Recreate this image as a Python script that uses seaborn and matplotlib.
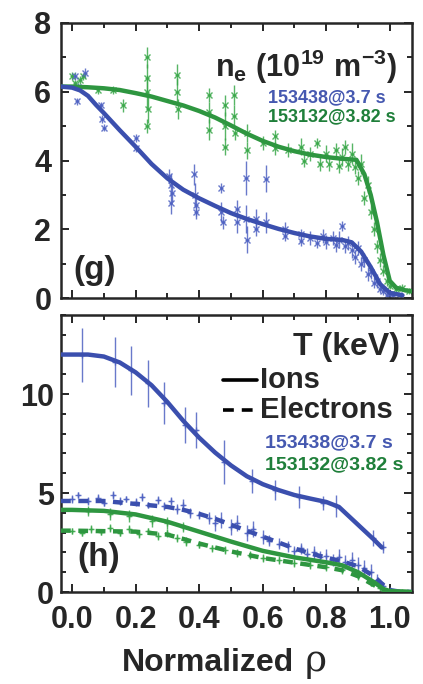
import numpy as np
import pandas as pd
import matplotlib
matplotlib.use("Agg")
import matplotlib.pyplot as plt
import seaborn as sns
from matplotlib.ticker import MultipleLocator, FormatStrFormatter

# fit curves (rho, value)
ne_rho_b = [-0.035, 0.0, 0.025, 0.05, 0.075, 0.10, 0.125, 0.15, 0.20, 0.25, 0.30, 0.35, 0.40, 0.45,
            0.50, 0.55, 0.60, 0.65, 0.70, 0.75, 0.80, 0.85, 0.88, 0.91, 0.94, 0.97, 1.00, 1.04]
ne_fit_b = [6.15, 6.12, 6.04, 5.88, 5.62, 5.38, 5.13, 4.88, 4.40, 3.90, 3.48, 3.15, 2.90, 2.68,
            2.47, 2.30, 2.15, 2.01, 1.89, 1.79, 1.72, 1.69, 1.62, 1.35, 0.90, 0.40, 0.15, 0.08]
ne_rho_g = [-0.035, 0.0, 0.05, 0.10, 0.15, 0.20, 0.25, 0.30, 0.35, 0.40, 0.45, 0.50, 0.55, 0.60,
            0.65, 0.70, 0.75, 0.80, 0.85, 0.895, 0.92, 0.94, 0.96, 0.98, 1.00, 1.02, 1.05, 1.07]
ne_fit_g = [6.15, 6.15, 6.13, 6.10, 6.05, 5.96, 5.86, 5.73, 5.60, 5.44, 5.25, 5.02, 4.78, 4.57,
            4.40, 4.27, 4.17, 4.10, 4.05, 4.02, 3.60, 3.00, 2.20, 1.25, 0.50, 0.30, 0.22, 0.20]

t_rho_ib = [-0.035, 0.0, 0.05, 0.10, 0.15, 0.20, 0.25, 0.30, 0.35, 0.40, 0.45, 0.50, 0.55, 0.60,
            0.65, 0.70, 0.75, 0.80, 0.84, 0.88, 0.92, 0.95, 0.975]
ti_fit_b = [12.0, 12.0, 12.0, 11.9, 11.6, 11.1, 10.45, 9.6, 8.65, 7.8, 7.05, 6.4, 5.85, 5.45,
            5.15, 4.9, 4.72, 4.55, 4.3, 3.7, 3.1, 2.65, 2.25]
t_rho_eb = [-0.035, 0.0, 0.10, 0.20, 0.30, 0.35, 0.40, 0.45, 0.50, 0.55, 0.60, 0.65, 0.70, 0.75,
            0.80, 0.85, 0.90, 0.95, 0.98, 1.00, 1.03, 1.07]
te_fit_b = [4.6, 4.6, 4.6, 4.45, 4.3, 4.15, 3.95, 3.7, 3.4, 3.1, 2.8, 2.5, 2.2, 1.95,
            1.74, 1.55, 1.3, 0.8, 0.35, 0.1, 0.02, 0.0]
t_rho_ig = [-0.035, 0.0, 0.10, 0.20, 0.30, 0.40, 0.50, 0.60, 0.70, 0.80, 0.85, 0.90, 0.95, 0.98,
            1.00, 1.07]
ti_fit_g = [4.15, 4.15, 4.1, 3.92, 3.55, 3.05, 2.55, 2.08, 1.75, 1.5, 1.35, 1.0, 0.5, 0.15, 0.05, 0.0]
t_rho_eg = [-0.035, 0.0, 0.20, 0.30, 0.35, 0.40, 0.50, 0.60, 0.70, 0.80, 0.85, 0.90, 0.95, 0.98,
            1.00, 1.07]
te_fit_g = [3.1, 3.1, 3.05, 2.9, 2.68, 2.45, 2.05, 1.72, 1.48, 1.25, 1.1, 0.8, 0.35, 0.1, 0.02, 0.0]

# measured points (rho, value, error)
ne_pts_b_rho = [0.01, 0.02, 0.015, 0.04, 0.09, 0.095, 0.10, 0.20, 0.20,
                0.305, 0.31, 0.315, 0.31, 0.385, 0.387, 0.39, 0.39, 0.47, 0.47, 0.475,
                0.518, 0.52, 0.547, 0.548, 0.55, 0.58, 0.58, 0.61, 0.61, 0.67, 0.67,
                0.72, 0.72, 0.75, 0.77, 0.79, 0.80, 0.82, 0.83, 0.84, 0.85, 0.86, 0.87,
                0.88, 0.89, 0.90, 0.91, 0.92, 0.93, 0.94, 0.95, 0.96, 0.97, 0.98, 0.99,
                1.00, 1.01, 1.03]
ne_pts_b = [6.45, 6.15, 5.72, 6.55, 5.6, 5.2, 4.95, 4.65, 4.35,
            3.55, 3.3, 3.05, 2.75, 3.6, 3.0, 2.7, 2.5, 3.2, 2.5, 2.2,
            2.6, 2.2, 3.5, 2.3, 1.7, 2.3, 2.0, 3.47, 2.2, 2.0, 1.8,
            1.85, 1.65, 1.75, 1.6, 1.8, 1.62, 1.75, 1.55, 1.7, 2.1, 1.5, 1.6,
            1.4, 1.2, 1.45, 1.0, 1.1, 0.7, 0.75, 0.45, 0.5, 0.25, 0.2, 0.1,
            0.12, 0.08, 0.1]
ne_err_b = [0.12, 0.1, 0.1, 0.15, 0.1, 0.12, 0.1, 0.12, 0.1,
            0.2, 0.3, 0.25, 0.3, 0.3, 0.35, 0.3, 0.2, 0.15, 0.3, 0.2,
            0.25, 0.3, 0.5, 0.4, 0.4, 0.3, 0.2, 0.4, 0.3, 0.2, 0.15,
            0.15, 0.15, 0.2, 0.15, 0.2, 0.2, 0.2, 0.2, 0.25, 0.15, 0.2, 0.2,
            0.25, 0.2, 0.2, 0.2, 0.2, 0.2, 0.2, 0.15, 0.2, 0.1, 0.1, 0.08,
            0.1, 0.05, 0.05]

ne_pts_g_rho = [0.0, 0.01, 0.025, 0.035, 0.08, 0.13, 0.16,
                0.235, 0.236, 0.237, 0.238, 0.236, 0.33, 0.33, 0.332,
                0.43, 0.43, 0.432, 0.48, 0.48, 0.482, 0.51, 0.51, 0.512,
                0.55, 0.55, 0.60, 0.64, 0.64, 0.68, 0.72, 0.73, 0.75, 0.77, 0.78,
                0.80, 0.81, 0.83, 0.84, 0.85, 0.86, 0.87, 0.88, 0.89, 0.90, 0.91,
                0.92, 0.93, 0.94, 0.95, 0.96, 0.97, 0.98, 0.99, 1.00, 1.02, 1.04, 1.06]
ne_pts_g = [6.45, 6.25, 6.35, 6.45, 6.05, 6.05, 5.6,
            7.0, 6.4, 6.0, 5.5, 5.0, 6.5, 6.0, 5.5,
            5.9, 5.4, 4.9, 5.6, 5.0, 4.4, 5.9, 5.3, 4.8,
            4.8, 4.3, 4.5, 4.7, 4.35, 4.3, 4.4, 4.0, 4.2, 4.5, 3.9,
            4.2, 3.9, 4.3, 3.85, 4.1, 4.4, 3.9, 4.2, 3.8, 3.5, 3.9,
            2.9, 3.3, 2.5, 2.0, 1.5, 1.1, 0.8, 0.5, 0.35, 0.25, 0.3, 0.2]
ne_err_g = [0.12, 0.1, 0.12, 0.1, 0.12, 0.12, 0.2,
            0.3, 0.4, 0.5, 0.4, 0.2, 0.3, 0.4, 0.3,
            0.2, 0.3, 0.3, 0.3, 0.4, 0.25, 0.3, 0.3, 0.2,
            0.25, 0.25, 0.2, 0.2, 0.2, 0.2, 0.25, 0.2, 0.2, 0.15, 0.2,
            0.25, 0.2, 0.2, 0.2, 0.25, 0.2, 0.2, 0.3, 0.2, 0.2, 0.3,
            0.2, 0.25, 0.2, 0.2, 0.2, 0.2, 0.15, 0.15, 0.1, 0.1, 0.1, 0.08]

ti_pts_b_rho = [0.03, 0.135, 0.185, 0.24, 0.29, 0.355, 0.389, 0.478,
                0.565, 0.638, 0.714, 0.79, 0.83, 0.947, 0.98]
ti_pts_b = [11.97, 11.63, 11.2, 10.55, 9.55, 8.43, 8.18, 6.58,
            5.62, 5.15, 4.81, 4.49, 4.36, 2.72, 2.27]
ti_err_b = [1.35, 1.25, 1.25, 1.2, 1.05, 0.9, 0.9, 1.1,
            0.6, 0.5, 0.55, 0.35, 0.55, 0.4, 0.3]

ti_pts_g_rho = [0.05, 0.12, 0.18, 0.25, 0.30, 0.35]
ti_pts_g = [4.1, 3.95, 3.85, 3.6, 3.5, 3.3]
ti_err_g = [0.25, 0.3, 0.3, 0.3, 0.3, 0.25]

te_pts_b_rho = [0.0, 0.02, 0.05, 0.08, 0.10, 0.13, 0.15, 0.17, 0.20, 0.22, 0.24, 0.27, 0.29,
                0.31, 0.33, 0.35, 0.37, 0.40, 0.43, 0.45, 0.47, 0.50, 0.52, 0.55, 0.57,
                0.60, 0.62, 0.65, 0.68, 0.70, 0.72, 0.74, 0.76, 0.78, 0.80, 0.82, 0.84,
                0.86, 0.88, 0.90, 0.92, 0.94, 0.96, 0.98, 1.00]
te_pts_b = [4.7, 4.9, 4.6, 4.75, 4.5, 4.9, 4.6, 4.7, 4.55, 4.8, 4.4, 4.65, 4.35,
            4.6, 4.2, 4.4, 4.0, 3.9, 3.75, 3.5, 3.65, 3.3, 3.5, 3.0, 3.2,
            2.8, 2.6, 2.45, 2.3, 2.05, 2.2, 1.9, 2.0, 1.75, 1.8, 1.6, 1.75,
            1.5, 1.6, 1.35, 1.2, 1.0, 0.6, 0.3, 0.1]
te_err_b = [0.2, 0.15, 0.2, 0.2, 0.15, 0.2, 0.2, 0.15, 0.2, 0.2, 0.15, 0.2, 0.2,
            0.2, 0.25, 0.3, 0.25, 0.2, 0.3, 0.4, 0.4, 0.4, 0.4, 0.4, 0.4,
            0.35, 0.3, 0.3, 0.3, 0.3, 0.3, 0.3, 0.35, 0.3, 0.35, 0.3, 0.4,
            0.35, 0.4, 0.4, 0.4, 0.4, 0.3, 0.2, 0.1]

te_pts_g_rho = [0.0, 0.03, 0.06, 0.09, 0.12, 0.15, 0.18, 0.21, 0.24, 0.27, 0.30, 0.33, 0.36,
                0.40, 0.44, 0.48, 0.52, 0.56, 0.60, 0.65, 0.70, 0.75, 0.80, 0.85, 0.90,
                0.94, 0.97, 1.00, 1.04]
te_pts_g = [3.1, 3.0, 3.2, 3.05, 3.25, 3.0, 3.2, 2.95, 3.1, 2.85, 3.0, 2.75, 2.55,
            2.4, 2.2, 2.1, 1.95, 1.85, 1.7, 1.6, 1.45, 1.35, 1.25, 1.1, 0.8,
            0.45, 0.2, 0.05, 0.02]
te_err_g = [0.15, 0.15, 0.2, 0.15, 0.2, 0.15, 0.2, 0.2, 0.15, 0.2, 0.2, 0.2, 0.25,
            0.2, 0.2, 0.2, 0.2, 0.2, 0.2, 0.2, 0.2, 0.2, 0.2, 0.2, 0.2,
            0.15, 0.1, 0.05, 0.02]

shot_b = "153438@3.7 s"
shot_g = "153132@3.82 s"

BLUE = "#3b4fae"
GREEN = "#2e9640"
BLUE_PT = "#4f62c2"
GREEN_PT = "#3aa84a"
BLUE_TXT = "#4558b0"
GREEN_TXT = "#1f7f3a"

sns.set_style("ticks")
plt.rcParams["font.family"] = ["Liberation Sans", "DejaVu Sans"]
plt.rcParams["font.weight"] = "bold"
plt.rcParams["mathtext.fontset"] = "custom"
plt.rcParams["mathtext.rm"] = "Liberation Sans:bold"
plt.rcParams["mathtext.bf"] = "Liberation Sans:bold"
plt.rcParams["mathtext.it"] = "Liberation Sans:bold"

fig = plt.figure(figsize=(4.23, 6.84), dpi=100)
ax1 = fig.add_axes([0.1442, 0.5643, 0.8298, 0.4021])
ax2 = fig.add_axes([0.1442, 0.1345, 0.8298, 0.4050])


def points(ax, x, y, err, color, marker):
    ax.errorbar(x, y, yerr=err, xerr=0.006, fmt=marker, color=color, ms=4, mew=1.0,
                elinewidth=1.0, capsize=0, alpha=0.85, zorder=2)


def fit(ax, x, y, color, dashed=False):
    df = pd.DataFrame({"rho": x, "val": y})
    line = sns.lineplot(data=df, x="rho", y="val", ax=ax, color=color, lw=3.2, sort=False,
                        zorder=3)
    if dashed:
        line.lines[-1].set_dashes((2.2, 1.7))


# panel (g)
points(ax1, ne_pts_g_rho, ne_pts_g, ne_err_g, GREEN_PT, "x")
points(ax1, ne_pts_b_rho, ne_pts_b, ne_err_b, BLUE_PT, "x")
fit(ax1, ne_rho_g, ne_fit_g, GREEN)
fit(ax1, ne_rho_b, ne_fit_b, BLUE)

# panel (h)
points(ax2, te_pts_g_rho, te_pts_g, te_err_g, GREEN_PT, "+")
points(ax2, te_pts_b_rho, te_pts_b, te_err_b, BLUE_PT, "+")
points(ax2, ti_pts_g_rho, ti_pts_g, ti_err_g, GREEN_PT, "+")
points(ax2, ti_pts_b_rho, ti_pts_b, ti_err_b, BLUE_PT, "+")
fit(ax2, t_rho_eg, te_fit_g, GREEN, dashed=True)
fit(ax2, t_rho_eb, te_fit_b, BLUE, dashed=True)
fit(ax2, t_rho_ig, ti_fit_g, GREEN)
fit(ax2, t_rho_ib, ti_fit_b, BLUE)

for ax in (ax1, ax2):
    ax.set_xlim(-0.035, 1.07)
    ax.xaxis.set_major_locator(MultipleLocator(0.2))
    ax.xaxis.set_minor_locator(MultipleLocator(0.1))
    ax.tick_params(which="both", direction="in", top=True, right=True, width=1.4,
                   labelsize=22)
    ax.tick_params(which="major", length=6)
    ax.tick_params(which="minor", length=3.5)
    for s in ax.spines.values():
        s.set_linewidth(1.8)
    ax.set_xlabel("")
    ax.set_ylabel("")
    for lab in ax.get_xticklabels() + ax.get_yticklabels():
        lab.set_fontweight("bold")

ax1.set_ylim(0, 8)
ax1.yaxis.set_major_locator(MultipleLocator(2))
ax1.yaxis.set_minor_locator(MultipleLocator(1))
ax1.tick_params(labelbottom=False)
ax1.tick_params(axis="y", pad=7)

ax2.set_ylim(0, 14)
ax2.yaxis.set_major_locator(MultipleLocator(5))
ax2.yaxis.set_minor_locator(MultipleLocator(1))
ax2.xaxis.set_major_formatter(FormatStrFormatter("%.1f"))
ax2.tick_params(axis="x", pad=9)
ax2.tick_params(axis="y", pad=5)

# texts panel (g)
ax1.text(0.957, 0.84, r"$\mathbf{n_e\ (10^{19}\ m^{-3})}$", transform=ax1.transAxes,
         ha="right", va="center", fontsize=22)
ax1.text(0.59, 0.727, shot_b, transform=ax1.transAxes, ha="left", va="center",
         fontsize=13, color=BLUE_TXT, weight="bold")
ax1.text(0.59, 0.658, shot_g, transform=ax1.transAxes, ha="left", va="center",
         fontsize=13, color=GREEN_TXT, weight="bold")
ax1.text(0.034, 0.10, "(g)", transform=ax1.transAxes, ha="left", va="center",
         fontsize=24, weight="bold")

# texts panel (h)
ax2.text(0.966, 0.884, "T (keV)", transform=ax2.transAxes, ha="right", va="center",
         fontsize=23, weight="bold")
ax2.plot([0.462, 0.558], [0.765, 0.765], transform=ax2.transAxes, color="black", lw=2.6)
ax2.text(0.567, 0.765, "Ions", transform=ax2.transAxes, ha="left", va="center",
         fontsize=21, weight="bold")
ax2.plot([0.462, 0.558], [0.657, 0.657], transform=ax2.transAxes, color="black", lw=2.6,
         dashes=(3.0, 2.2))
ax2.text(0.567, 0.657, "Electrons", transform=ax2.transAxes, ha="left", va="center",
         fontsize=21, weight="bold")
ax2.text(0.581, 0.538, shot_b, transform=ax2.transAxes, ha="left", va="center",
         fontsize=14, color=BLUE_TXT, weight="bold")
ax2.text(0.581, 0.458, shot_g, transform=ax2.transAxes, ha="left", va="center",
         fontsize=14, color=GREEN_TXT, weight="bold")
ax2.text(0.048, 0.126, "(h)", transform=ax2.transAxes, ha="left", va="center",
         fontsize=24, weight="bold")

# x label
fig.text(0.289, 0.019, "Normalized", ha="left", va="baseline", fontsize=23, weight="bold")
fig.text(0.721, 0.019, "ρ", ha="left", va="baseline", fontsize=27,
         family=["DejaVu Serif"], weight="normal")

fig.savefig("out.png", dpi=100)
